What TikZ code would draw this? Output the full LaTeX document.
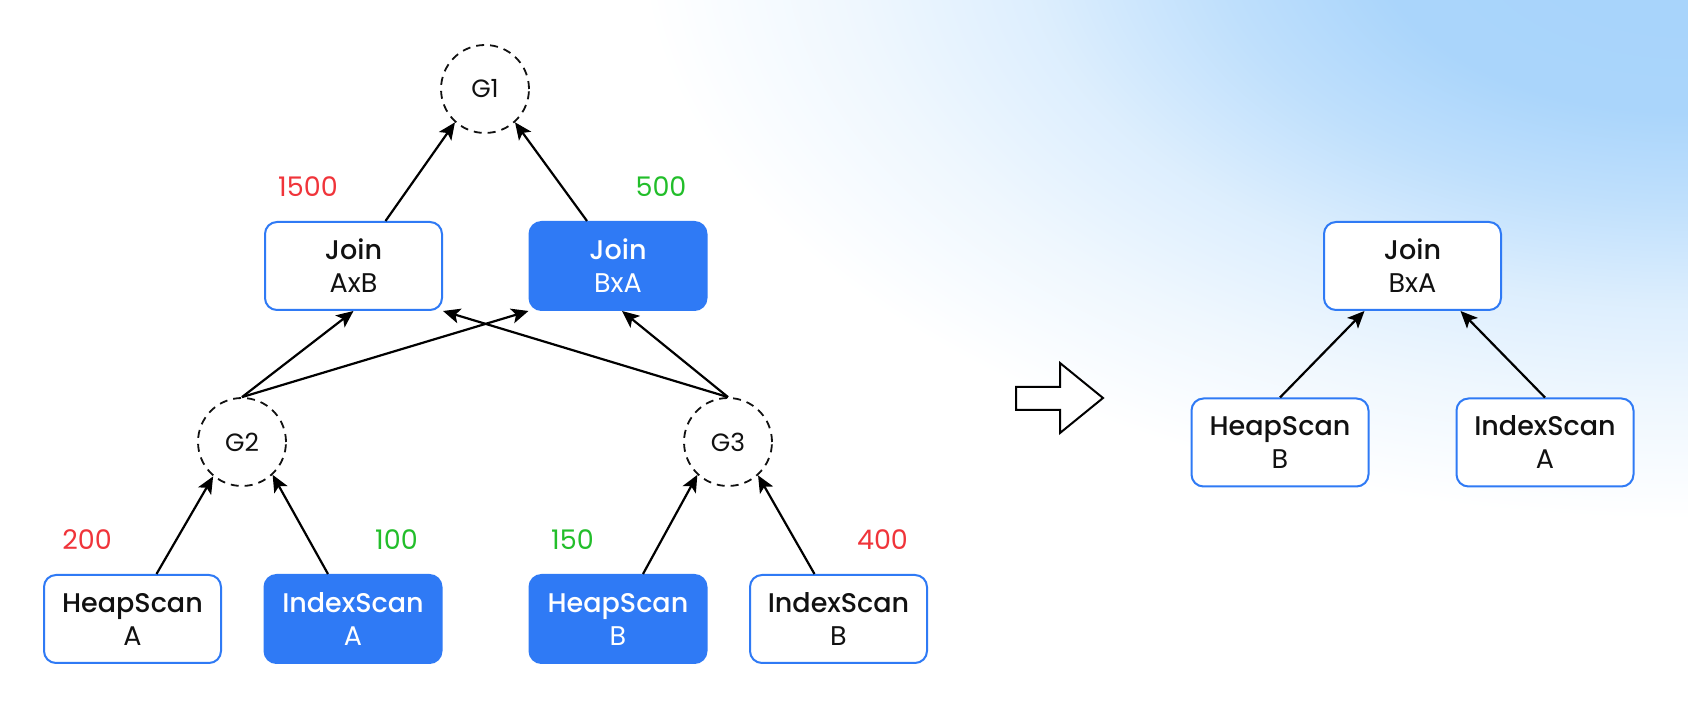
\documentclass[tikz,border=0pt]{standalone}
\usepackage{fontspec}
\setmainfont{Poppins}[BoldFont={Poppins Medium}]
\usetikzlibrary{arrows.meta,calc}
\definecolor{boxblue}{RGB}{47,122,245}
\definecolor{numred}{RGB}{240,52,58}
\definecolor{numgreen}{RGB}{34,190,42}
\definecolor{bgblue}{RGB}{166,211,251}
\definecolor{inkblack}{RGB}{17,17,17}
\pgfdeclareradialshading{bgglow}{\pgfpoint{0bp}{0bp}}{%
  color(0bp)=(bgblue);
  color(7.5bp)=(bgblue!95!white);
  color(11.25bp)=(bgblue!72!white);
  color(15.75bp)=(bgblue!38!white);
  color(20bp)=(bgblue!18!white);
  color(25bp)=(white);
  color(50bp)=(white)}
\begin{document}
\begin{tikzpicture}[x=0.5pt,y=-0.5pt,
  planbox/.style={draw=boxblue, line width=1pt, rounded corners=6pt, fill=white,
    minimum width=88.5pt, minimum height=44pt, align=center, text=inkblack,
    font=\fontsize{13.5}{16.5}\selectfont, inner sep=0pt},
  chosen/.style={planbox, fill=boxblue, text=white},
  grp/.style={circle, draw=inkblack, dash pattern=on 4pt off 3pt, line width=0.9pt,
    minimum size=44pt, inner sep=0pt, text=inkblack, font=\fontsize{12.5}{14}\selectfont},
  cost/.style={font=\fontsize{13.5}{16}\selectfont, inner sep=0pt},
  conn/.style={-{Stealth[length=8.5pt,width=7.5pt,inset=2pt]}, line width=1.1pt, draw=black},
]
\useasboundingbox (0,0) rectangle (1688,710);
\fill[white] (0,0) rectangle (1688,710);
\begin{scope}
  \clip (0,0) rectangle (1688,710);
  \shade[shading=bgglow] (1688,-60) ellipse [x radius=1050, y radius=580];
\end{scope}

% left tree
\node[grp] (g1) at (485,89) {G1};
\node[planbox] (axb) at (353.5,266) {{\bfseries Join}\\AxB};
\node[chosen] (bxa) at (618,266) {{\bfseries Join}\\BxA};
\node[grp] (g2) at (242,442) {G2};
\node[grp] (g3) at (728,442) {G3};
\node[planbox] (hsa) at (132.5,619) {{\bfseries HeapScan}\\A};
\node[chosen] (isa) at (353,619) {{\bfseries IndexScan}\\A};
\node[chosen] (hsb) at (618,619) {{\bfseries HeapScan}\\B};
\node[planbox] (isb) at (838.5,619) {{\bfseries IndexScan}\\B};

\node[cost, text=numred] (c1500) at (308,187) {1500};
\node[cost, text=numgreen] (c500) at (661,187) {500};
\node[cost, text=numred] (c200) at (87,540) {200};
\node[cost, text=numgreen] (c100) at (396.5,540) {100};
\node[cost, text=numgreen] (c150) at (572.5,540) {150};
\node[cost, text=numred] (c400) at (882.5,540) {400};

\draw[conn] ([xshift=16pt]axb.north) -- (g1.228);
\draw[conn] ([xshift=-15.5pt]bxa.north) -- (g1.312);
\draw[conn] ([xshift=12pt]hsa.north) -- (g2.230);
\draw[conn] ([xshift=-12.5pt]isa.north) -- (g2.313);
\draw[conn] ([xshift=12.5pt]hsb.north) -- (g3.227);
\draw[conn] ([xshift=-12pt]isb.north) -- (g3.312);
\draw[conn] (g2.north) -- (axb.south);
\draw[conn] (g2.north) -- (bxa.south west);
\draw[conn] (g3.north) -- ([xshift=2pt]bxa.south);
\draw[conn] (g3.north) -- (axb.south east);

% block arrow
\draw[line width=1pt, fill=white, line join=miter]
  (1016,387) -- (1060,387) -- (1060,363) -- (1103,398) -- (1060,433) -- (1060,410) -- (1016,410) -- cycle;

% right tree
\node[planbox] (rj) at (1412.5,266) {{\bfseries Join}\\BxA};
\node[planbox] (rhs) at (1280,442.5) {{\bfseries HeapScan}\\B};
\node[planbox] (ris) at (1545,442.5) {{\bfseries IndexScan}\\A};
\draw[conn] (rhs.north) -- ([xshift=-24pt]rj.south);
\draw[conn] (ris.north) -- ([xshift=24pt]rj.south);
\end{tikzpicture}
\end{document}
